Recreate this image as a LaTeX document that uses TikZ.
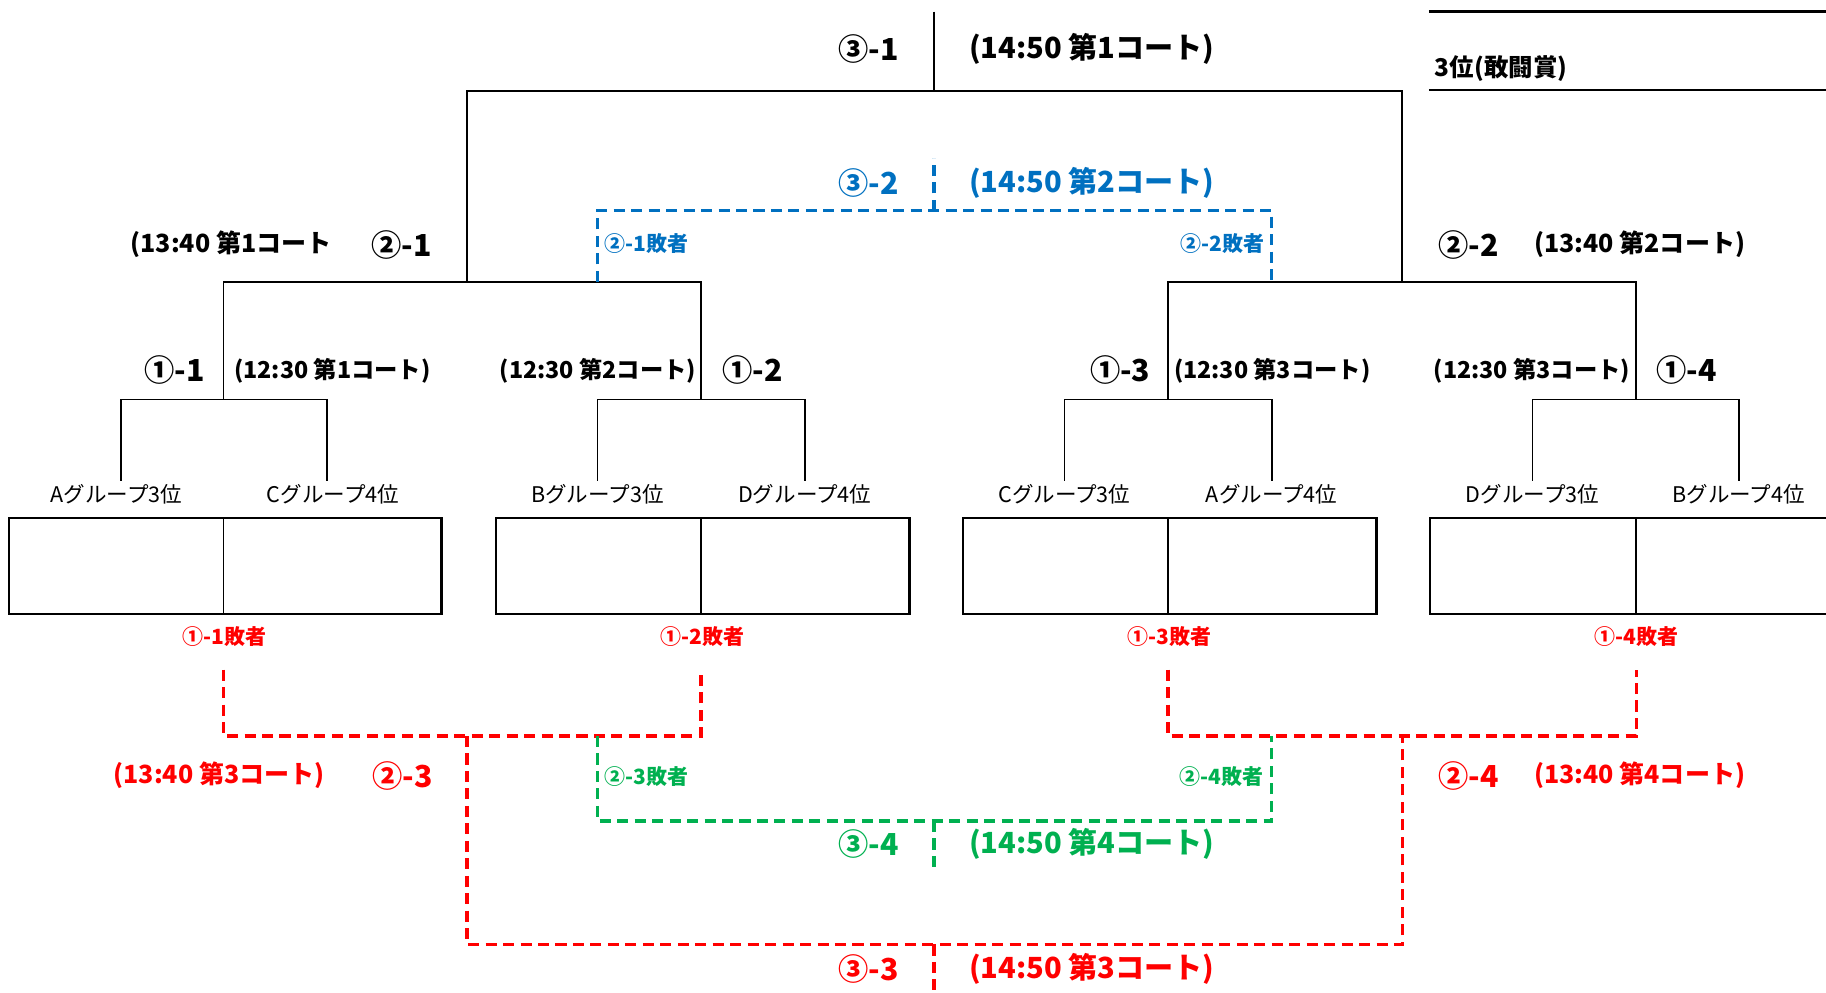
\documentclass[tikz,border=0pt]{standalone}
\usepackage{fontspec}
\setmainfont{Noto Sans CJK JP}
\usepackage{tikz}
\usetikzlibrary{positioning}

\definecolor{blu}{HTML}{0070C0}
\definecolor{rosso}{HTML}{FF0000}
\definecolor{verde}{HTML}{00B050}

\tikzset{
    linea/.style={line width=1.5pt},
    tratto/.style={line width=2.7pt, dash pattern=on 9.5pt off 5.5pt},
    cella/.style={draw, line width=2pt, minimum height=82pt, inner sep=0pt, anchor=north west},
    turno/.style={font=\bfseries\fontsize{26}{28}\selectfont, inner sep=0pt},
    ora3/.style={font=\bfseries\fontsize{25}{28}\selectfont, inner sep=0pt},
    ora2/.style={font=\bfseries\fontsize{21.5}{24}\selectfont, inner sep=0pt},
    ora1/.style={font=\bfseries\fontsize{20}{22}\selectfont, inner sep=0pt},
    perdente/.style={font=\bfseries\fontsize{18}{20}\selectfont, inner sep=0pt},
    gruppo/.style={font=\fontsize{18.5}{20}\selectfont, inner sep=0pt},
}

\begin{document}
\begin{tikzpicture}[x=1pt, y=-1pt]
    \useasboundingbox (0,0) rectangle (1568,852);
    \clip (0,0) rectangle (1568,852);

    % tabellone
    \coordinate (top) at (802,10);
    \coordinate (w) at (802,78);
    \coordinate (m1) at (401,242);
    \coordinate (m2) at (1204,242);
    \coordinate (q1) at (192,343);
    \coordinate (q2) at (602,343);
    \coordinate (q3) at (1003,343);
    \coordinate (q4) at (1405,343);
    \coordinate (t1) at (104,413);
    \coordinate (t2) at (281,413);
    \coordinate (t3) at (513,413);
    \coordinate (t4) at (691,413);
    \coordinate (t5) at (914,413);
    \coordinate (t6) at (1092,413);
    \coordinate (t7) at (1316,413);
    \coordinate (t8) at (1493,413);

    \draw[linea] (top) -- (w);
    \draw[linea] (m1) |- (w) -| (m2);
    \draw[linea] (q1) |- (m1) -| (q2);
    \draw[linea] (q3) |- (m2) -| (q4);
    \draw[linea] (t1) |- (q1) -| (t2);
    \draw[linea] (t3) |- (q2) -| (t4);
    \draw[linea] (t5) |- (q3) -| (t6);
    \draw[linea] (t7) |- (q4) -| (t8);

    \node[gruppo, below=3pt of t1, xshift=-4pt] (g1) {Aグループ3位};
    \node[gruppo, below=3pt of t2, xshift=5pt] (g2) {Cグループ4位};
    \node[gruppo, below=3pt of t3] (g3) {Bグループ3位};
    \node[gruppo, below=3pt of t4] (g4) {Dグループ4位};
    \node[gruppo, below=3pt of t5] (g5) {Cグループ3位};
    \node[gruppo, below=3pt of t6] (g6) {Aグループ4位};
    \node[gruppo, below=3pt of t7] (g7) {Dグループ3位};
    \node[gruppo, below=3pt of t8] (g8) {Bグループ4位};

    % caselle dei risultati
    \node[cella, minimum width=371pt] (c1) at (7,444) {};
    \node[cella, minimum width=355pt] (c2) at (425,444) {};
    \node[cella, minimum width=355pt] (c3) at (826,444) {};
    \node[cella, minimum width=360pt] (c4) at (1227,444) {};
    \draw[linea] (q1 |- c1.north) -- (q1 |- c1.south);
    \draw[linea] (q2 |- c2.north) -- (q2 |- c2.south);
    \draw[linea] (q3 |- c3.north) -- (q3 |- c3.south);
    \draw[linea] (q4 |- c4.north) -- (q4 |- c4.south);

    % etichette dei turni
    \coordinate (k1) at (192,318);
    \coordinate (k2) at (602,318);
    \coordinate (k3) at (1003,318);
    \coordinate (k4) at (1405,318);
    \node[turno, left=16pt of k1] (n11) {①-1};
    \node[ora1, right=9pt of k1] (o11) {(12:30 第1コート)};
    \node[ora1, left=4pt of k2] (o12) {(12:30 第2コート)};
    \node[turno, right=18pt of k2] (n12) {①-2};
    \node[turno, left=15pt of k3] (n13) {①-3};
    \node[ora1, right=5pt of k3] (o13) {(12:30 第3コート)};
    \node[ora1, left=5pt of k4] (o14) {(12:30 第3コート)};
    \node[turno, right=17pt of k4] (n14) {①-4};

    \coordinate (h1) at (401,210);
    \coordinate (h2) at (1204,210);
    \node[turno, left=30pt of h1] (n21) {②-1};
    \node[ora2, left=34pt of n21] (o21) {(13:40 第1コート};
    \node[turno, right=31pt of h2] (n22) {②-2};
    \node[ora2, right=30pt of n22] (o22) {(13:40 第2コート)};

    \coordinate (f1) at (802,42);
    \node[turno, left=30pt of f1] (n31) {③-1};
    \node[ora3, right=30pt of f1] (o31) {(14:50 第1コート)};

    % premi
    \coordinate (a1) at (1227,10);
    \coordinate (a2) at (1568,10);
    \coordinate (a3) at (1227,77);
    \coordinate (a4) at (1568,77);
    \draw[line width=2pt] (a1) -- (a2);
    \draw[line width=2pt] (a3) -- (a4);
    \node[font=\bfseries\fontsize{21}{24}\selectfont, inner sep=0pt, anchor=west] (terzo) at (1232,59) {3位(敢闘賞)};

    % 3位決定戦 (blu)
    \begin{scope}[blu]
        \coordinate (b0) at (802,136);
        \coordinate (b1) at (802,181);
        \coordinate (bl) at (513,242);
        \coordinate (br) at (1092,242);
        \draw[tratto] (bl) |- (b1) -| (br);
        \draw[tratto] (b1) -- (b0);
        \coordinate (f2) at (802,157);
        \node[turno, text=blu, left=30pt of f2] (n32) {③-2};
        \node[ora3, text=blu, right=30pt of f2] (o32) {(14:50 第2コート)};
        \node[perdente, text=blu, anchor=west] (p21) at (519,209) {②-1敗者};
        \node[perdente, text=blu, anchor=east] (p22) at (1086,209) {②-2敗者};
    \end{scope}

    % perdenti del primo turno (rosso)
    \begin{scope}[rosso]
        \node[perdente, text=rosso] (p11) at (193,547) {①-1敗者};
        \node[perdente, text=rosso] (p12) at (603,547) {①-2敗者};
        \node[perdente, text=rosso] (p13) at (1004,547) {①-3敗者};
        \node[perdente, text=rosso] (p14) at (1405,547) {①-4敗者};
        \coordinate (r1) at (192,575);
        \coordinate (r2) at (602,575);
        \coordinate (r3) at (1003,575);
        \coordinate (r4) at (1405,575);
        \coordinate (s1) at (401,632);
        \coordinate (s2) at (1204,632);
        \coordinate (s3) at (802,811);
        \coordinate (s4) at (802,852);
        \draw[tratto] (r1) |- (s1) -| (r2);
        \draw[tratto] (r3) |- (s2) -| (r4);
        \draw[tratto] (s1) |- (s3) -| (s2);
        \draw[tratto] (s3) -- (s4);
        \coordinate (h3) at (401,666);
        \coordinate (h4) at (1204,666);
        \node[turno, text=rosso, left=29pt of h3] (n23) {②-3};
        \node[ora2, text=rosso, left=41pt of n23] (o23) {(13:40 第3コート)};
        \node[turno, text=rosso, right=31pt of h4] (n24) {②-4};
        \node[ora2, text=rosso, right=30pt of n24] (o24) {(13:40 第4コート)};
        \coordinate (f3) at (802,832);
        \node[turno, text=rosso, left=30pt of f3] (n33) {③-3};
        \node[ora3, text=rosso, right=30pt of f3] (o33) {(14:50 第3コート)};
    \end{scope}

    % perdenti del secondo turno (verde)
    \begin{scope}[verde]
        \coordinate (v1) at (513,632);
        \coordinate (v2) at (1092,632);
        \coordinate (v3) at (802,705);
        \coordinate (v4) at (802,745);
        \draw[tratto] (v1) |- (v3) -| (v2);
        \draw[tratto] (v3) -- (v4);
        \node[perdente, text=verde, anchor=west] (p23) at (519,667) {②-3敗者};
        \node[perdente, text=verde, anchor=east] (p24) at (1085,667) {②-4敗者};
        \coordinate (f4) at (802,725);
        \node[turno, text=verde, left=30pt of f4] (n34) {③-4};
        \node[ora3, text=verde, right=30pt of f4] (o34) {(14:50 第4コート)};
    \end{scope}
\end{tikzpicture}
\end{document}
